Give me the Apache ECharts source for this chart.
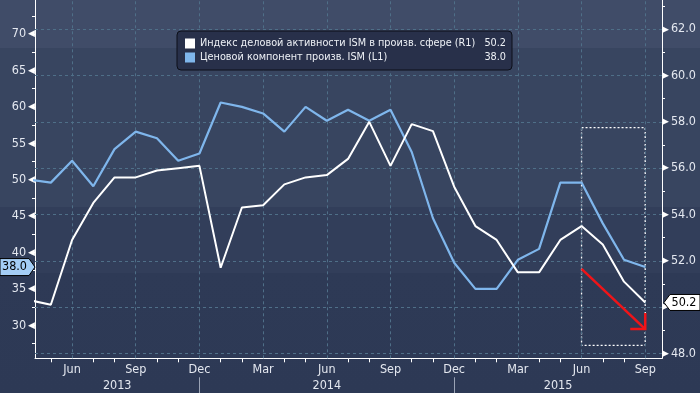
<!DOCTYPE html>
<html><head><meta charset="utf-8">
<script src="https://cdn.jsdelivr.net/npm/echarts@6/dist/echarts.min.js"></script>
<style>html,body{margin:0;padding:0;background:#2d3955}#c{width:700px;height:393px}</style>
</head><body><div id="c"></div>
<script>
// ---- data ----
const categories = ['2013-04','2013-05','2013-06','2013-07','2013-08','2013-09','2013-10','2013-11','2013-12',
  '2014-01','2014-02','2014-03','2014-04','2014-05','2014-06','2014-07','2014-08','2014-09','2014-10','2014-11','2014-12',
  '2015-01','2015-02','2015-03','2015-04','2015-05','2015-06','2015-07','2015-08','2015-09'];
const ismPMI = [50.3,50.1,52.9,54.5,55.6,55.6,55.9,56.0,56.1,51.7,54.3,54.4,55.3,55.6,55.7,56.4,58.0,56.1,57.9,57.6,55.2,53.5,52.9,51.5,51.5,52.9,53.5,52.7,51.1,50.2];
const pricesIdx = [50.0,49.6,52.6,49.1,54.2,56.6,55.7,52.6,53.6,60.6,60.0,59.1,56.6,60.0,58.1,59.6,58.1,59.6,53.8,44.7,38.6,35.0,35.0,39.0,40.5,49.6,49.6,44.0,39.0,38.0];
const quarterTickLabels = ['Jun','Sep','Dec','Mar','Jun','Sep','Dec','Mar','Jun','Sep'];
const yearLabels = ['2013','2014','2015'];
const leftTicks = [30,35,40,45,50,55,60,65,70];
const rightTicks = [48,50,52,54,56,58,60,62];
const nameISM = 'Индекс деловой активности ISM в произв. сфере (R1)';
const namePrice = 'Ценовой компонент произв. ISM (L1)';
// annotation (data coords): dashed box and arrow
const boxFrom = [26, 57.75], boxTo = [29, 48.35];
const arrowFrom = [26, 51.65], arrowTo = [29, 49.05];

// ---- layout ----
const X_MIN = 0.254, X_MAX = 29.79;
const L_MIN = 25.47, L_MAX = 74.68;
const R_MIN = 47.79, R_MAX = 63.26;
const FONT = "'DejaVu Sans Condensed','Liberation Sans Narrow','DejaVu Sans',sans-serif";
const LBL = '#e4e8f0';

const monthOf = c => parseInt(c.slice(5), 10);
const quarterIdx = categories.map((c,i)=>[c,i]).filter(([c])=>monthOf(c)%3===0).map(([,i])=>i);
const minorIdx = categories.map((c,i)=>[c,i]).filter(([c])=>monthOf(c)%3!==0).map(([,i])=>i);
const decIdx = categories.map((c,i)=>[c,i]).filter(([c])=>monthOf(c)===12).map(([,i])=>i);
const bounds = [X_MIN, ...decIdx, X_MAX];
const yearCenters = yearLabels.map((y,k)=>(bounds[k]+bounds[k+1])/2);
const leftMinor = []; for (let v=27.5; v<L_MAX; v+=2.5) leftMinor.push(v);
const rightMinor = []; for (let v=49; v<R_MAX; v+=2) rightMinor.push(v);

const chart = echarts.init(document.getElementById('c'));
const gridLine = {color:'#4f6f88', type:[3,3], width:1};
chart.setOption({
  animation:false,
  backgroundColor:{type:'linear',x:0,y:0,x2:0,y2:1,colorStops:[
    {offset:0,color:'#404c68'},{offset:0.122,color:'#404c68'},
    {offset:0.122,color:'#384560'},{offset:0.527,color:'#384560'},
    {offset:0.527,color:'#323e5a'},{offset:0.695,color:'#323e5a'},
    {offset:0.695,color:'#2e3a56'},{offset:1,color:'#2d3955'}]},
  textStyle:{fontFamily:FONT},
  grid:{left:35,right:38,top:0,bottom:34.7},
  legend:{
    data:[nameISM,namePrice], orient:'vertical', left:177, top:31,
    itemWidth:10, itemHeight:10, itemGap:3, icon:'rect',
    backgroundColor:'#28304a', borderColor:'#0c0f18', borderWidth:1, borderRadius:4,
    padding:[7,6,7,8],
    formatter:name=>{
      const v = name===nameISM ? ismPMI[ismPMI.length-1] : pricesIdx[pricesIdx.length-1];
      return '{n|'+name+'}{v|'+v.toFixed(1)+'}';
    },
    textStyle:{color:'#eef1f6', fontFamily:FONT, fontSize:10.8, lineHeight:10,
      rich:{n:{width:276,fontSize:10.8,color:'#eef1f6',fontFamily:FONT,lineHeight:10},
            v:{width:30,align:'right',fontSize:10.8,color:'#eef1f6',fontFamily:FONT,lineHeight:10}}}
  },
  xAxis:[{
    type:'value', min:X_MIN, max:X_MAX,
    axisLine:{lineStyle:{color:'#ffffff',width:1}},
    axisTick:{customValues:minorIdx, length:4, lineStyle:{color:'#ffffff'}},
    axisLabel:{customValues:quarterIdx, margin:5, color:LBL, fontSize:12.5, fontFamily:FONT,
      formatter:v=>quarterTickLabels[quarterIdx.indexOf(Math.round(v))]},
    splitLine:{show:false}
  },{
    type:'value', min:X_MIN, max:X_MAX, position:'bottom', offset:19,
    axisLine:{show:false},
    axisTick:{customValues:decIdx, length:17, lineStyle:{color:'#9aa3b5'}},
    axisLabel:{customValues:yearCenters, margin:2, color:LBL, fontSize:12.5, fontFamily:FONT,
      formatter:v=>yearLabels[yearCenters.findIndex(c=>Math.abs(c-v)<1e-6)]},
    splitLine:{show:false}
  }],
  yAxis:[{
    type:'value', position:'left', min:L_MIN, max:L_MAX,
    axisLine:{show:true,lineStyle:{color:'#ffffff',width:1}},
    axisTick:{show:true,customValues:leftMinor,length:3,lineStyle:{color:'#ffffff'}},
    axisLabel:{customValues:leftTicks, margin:0, color:LBL, fontFamily:FONT,
      formatter:v=>'{a|'+v+'}{t|◀}',
      rich:{a:{fontSize:12.5,color:LBL,fontFamily:FONT},t:{fontSize:9,color:'#ffffff',fontFamily:'DejaVu Sans',padding:[0,0,0,2]}}},
    splitLine:{show:false}
  },{
    type:'value', position:'right', min:R_MIN, max:R_MAX,
    axisLine:{show:true,lineStyle:{color:'#ffffff',width:1}},
    axisTick:{show:true,customValues:rightMinor,length:3,lineStyle:{color:'#ffffff'}},
    axisLabel:{customValues:rightTicks, margin:0, color:LBL, fontFamily:FONT,
      formatter:v=>'{t|▶}{a|'+v.toFixed(1)+'}',
      rich:{a:{fontSize:12.5,color:LBL,fontFamily:FONT},t:{fontSize:9,color:'#ffffff',fontFamily:'DejaVu Sans',padding:[0,2,0,0]}}},
    splitLine:{show:false}
  }],
  series:[{
    name:namePrice, type:'line', xAxisIndex:0, yAxisIndex:0,
    data:pricesIdx.map((v,i)=>[i,v]), showSymbol:false, symbol:'none',
    color:'#7fb6ec', lineStyle:{color:'#7fb6ec',width:2.2}, z:3,
    markLine:{silent:true, z:1, symbol:['none','none'], label:{show:false}, lineStyle:gridLine,
      data:quarterIdx.map(x=>({xAxis:x}))}
  },{
    name:nameISM, type:'line', xAxisIndex:0, yAxisIndex:1,
    data:ismPMI.map((v,i)=>[i,v]), showSymbol:false, symbol:'none',
    color:'#ffffff', lineStyle:{color:'#ffffff',width:2}, z:4,
    markLine:{silent:true, z:1, symbol:['none','none'], label:{show:false}, lineStyle:gridLine,
      data:rightTicks.map(y=>({yAxis:y}))},
    markArea:{silent:true, itemStyle:{color:'rgba(0,0,0,0)',borderColor:'#ffffff',borderWidth:1.3,borderType:[2,2]},
      data:[[{xAxis:boxFrom[0],yAxis:boxFrom[1]},{xAxis:boxTo[0],yAxis:boxTo[1]}]]}
  }]
});

// flags and arrow positioned via the library's scales
const yL = chart.convertToPixel({yAxisIndex:0}, pricesIdx[pricesIdx.length-1]);
const yR = chart.convertToPixel({yAxisIndex:1}, ismPMI[ismPMI.length-1]);
const a0 = chart.convertToPixel({seriesIndex:1}, arrowFrom);
const a1 = chart.convertToPixel({seriesIndex:1}, arrowTo);
const xL = chart.convertToPixel({xAxisIndex:0}, X_MIN);
const xR = chart.convertToPixel({xAxisIndex:0}, X_MAX);
chart.setOption({graphic:[
  {type:'polyline', z:50, shape:{points:[a0,a1]}, style:{stroke:'#f01418',lineWidth:2.5}},
  {type:'polyline', z:50, shape:{points:[[a1[0]-15,a1[1]],a1,[a1[0],a1[1]-16]]}, style:{stroke:'#f01418',lineWidth:2.5,fill:null}},
  {type:'polygon', z:60, shape:{points:[[0,yL-8.5],[xL-6,yL-8.5],[xL,yL],[xL-6,yL+8.5],[0,yL+8.5]]},
    style:{fill:'#a4cdf5',stroke:'#000000',lineWidth:1}},
  {type:'text', z:61, x:(xL-6)/2, y:yL, style:{text:pricesIdx[pricesIdx.length-1].toFixed(1), fill:'#000',
    font:'12.5px '+FONT, align:'center', verticalAlign:'middle'}},
  {type:'polygon', z:60, shape:{points:[[xR+2,yR],[xR+8,yR-8],[700,yR-8],[700,yR+8],[xR+8,yR+8]]},
    style:{fill:'#ffffff',stroke:'#000000',lineWidth:1}},
  {type:'text', z:61, x:xR+22, y:yR, style:{text:ismPMI[ismPMI.length-1].toFixed(1), fill:'#000',
    font:'12.5px '+FONT, align:'center', verticalAlign:'middle'}}
]});
</script></body></html>
